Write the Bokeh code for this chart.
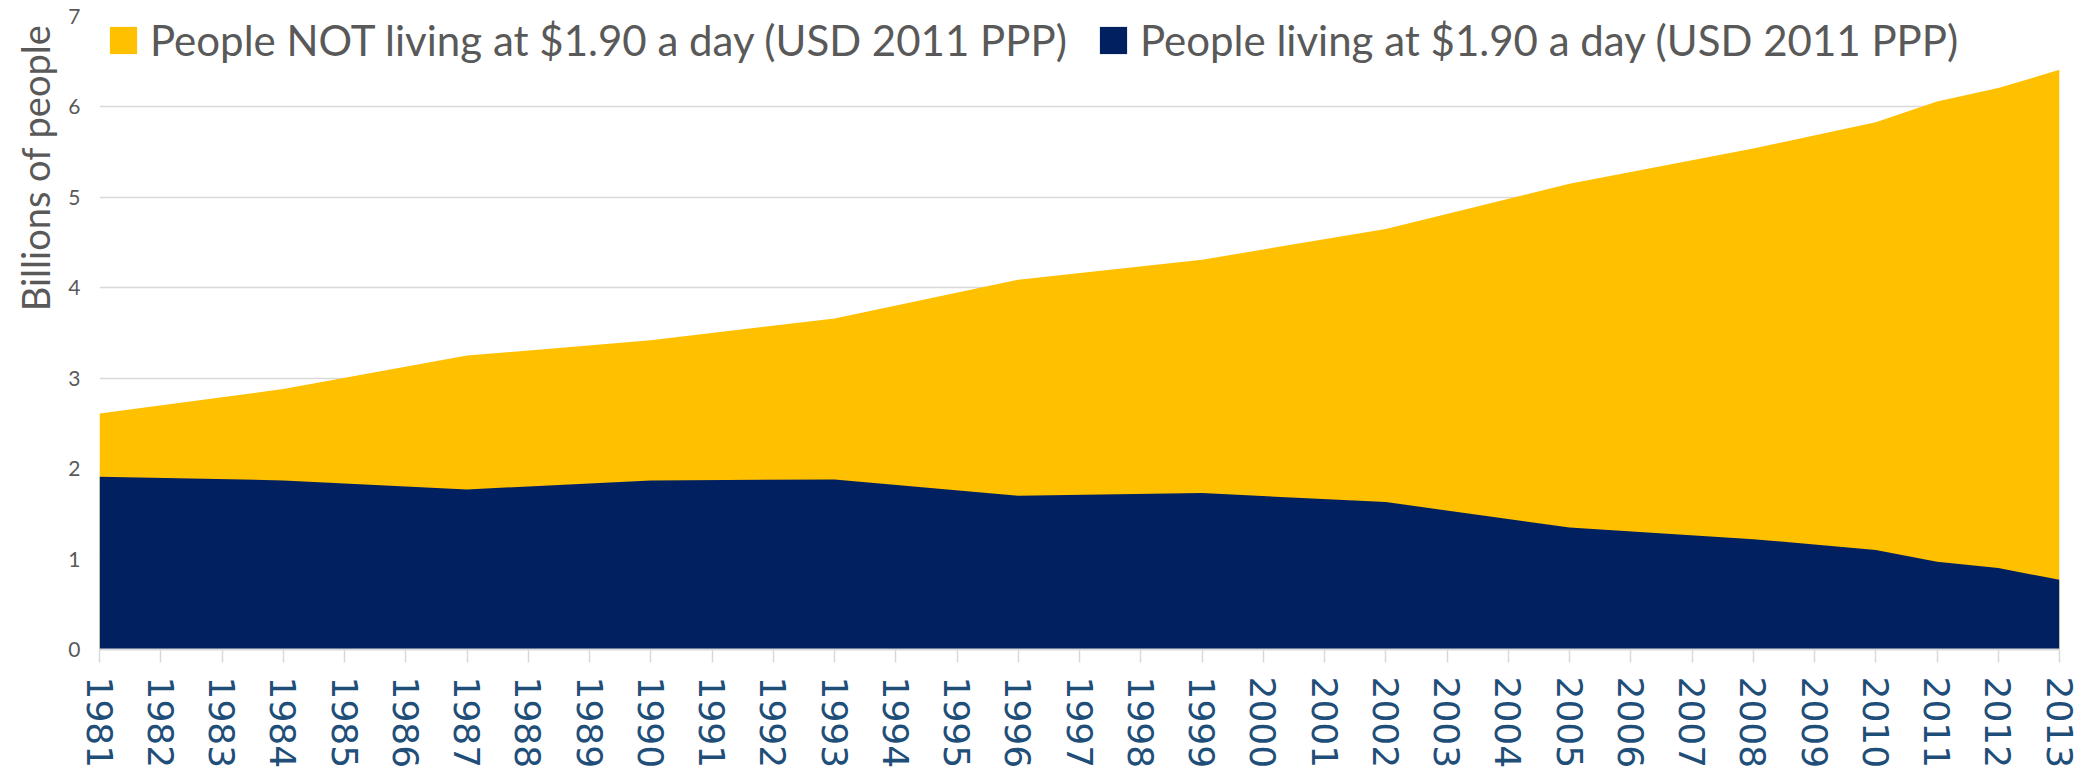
from bokeh.plotting import figure
from bokeh.models import (ColumnDataSource, FixedTicker, Legend, LegendItem,
                          Title, Range1d)
from bokeh.embed import file_html
from bokeh.resources import INLINE

# ---- data (billions of people) ----
years = [1981, 1984, 1987, 1990, 1993, 1996, 1999, 2002, 2005, 2008, 2010, 2011, 2012, 2013]
not_poor = [2.61, 2.88, 3.25, 3.42, 3.66, 4.09, 4.31, 4.65, 5.15, 5.54, 5.83, 6.06, 6.21, 6.41]
poor = [1.91, 1.87, 1.77, 1.87, 1.88, 1.70, 1.73, 1.63, 1.35, 1.22, 1.10, 0.97, 0.90, 0.77]

tick_years = list(range(1981, 2014))
tick_labels = [str(y) for y in tick_years]
y_ticks = [0, 1, 2, 3, 4, 5, 6, 7]

label_not_poor = "People NOT living at $1.90 a day (USD 2011 PPP)"
label_poor = "People living at $1.90 a day (USD 2011 PPP)"
y_title = "Billions of people"

YELLOW = "#FFC000"
NAVY = "#002060"
GRID = "#D9D9D9"
TEXT = "#595959"
XLAB = "#1F4E79"

src = ColumnDataSource(dict(year=years, not_poor=not_poor, poor=poor))

p = figure(frame_width=1960, frame_height=633,
           min_border_left=99, min_border_right=28, min_border_top=16, min_border_bottom=0,
           x_range=Range1d(1981, 2013), y_range=Range1d(0, 7),
           output_backend="svg", toolbar_location=None)
p.outline_line_color = None
p.background_fill_color = "white"
p.border_fill_color = "white"

r_yellow = p.varea(x="year", y1=0, y2="not_poor", source=src, fill_color=YELLOW)
r_navy = p.varea(x="year", y1=0, y2="poor", source=src, fill_color=NAVY)

# grid
p.xgrid.grid_line_color = None
p.ygrid.grid_line_color = GRID
p.ygrid.grid_line_width = 1.5
p.ygrid.ticker = FixedTicker(ticks=y_ticks)

# x axis
xa = p.xaxis[0]
xa.ticker = FixedTicker(ticks=tick_years)
xa.major_label_overrides = {y: l for y, l in zip(tick_years, tick_labels)}
xa.major_label_orientation = "vertical"
xa.major_label_text_font = "DejaVu Sans"
xa.major_label_text_font_size = "36px"
xa.major_label_text_color = XLAB
xa.major_label_standoff = 14
xa.axis_line_color = GRID
xa.axis_line_width = 2
xa.major_tick_line_color = GRID
xa.major_tick_line_width = 1.5
xa.major_tick_out = 13
xa.major_tick_in = 0
xa.minor_tick_line_color = None

# y axis
ya = p.yaxis[0]
ya.ticker = FixedTicker(ticks=y_ticks)
ya.major_label_text_font = "Lato"
ya.major_label_text_font_size = "21px"
ya.major_label_text_color = TEXT
ya.major_label_standoff = 13
ya.axis_line_color = None
ya.major_tick_line_color = None
ya.minor_tick_line_color = None

# y axis title, in the left panel, placed toward the top like the reference
p.add_layout(Title(text=y_title, align="right", offset=8, standoff=15,
                   text_font="Lato", text_font_size="38px", text_font_style="normal",
                   text_color=TEXT), "left")

legend = Legend(items=[LegendItem(label=label_not_poor, renderers=[r_yellow]),
                       LegendItem(label=label_poor, renderers=[r_navy])],
                orientation="horizontal", location=(7, 584),
                label_text_font="Lato", label_text_font_size="42px",
                label_text_color=TEXT, glyph_width=34, glyph_height=34,
                label_standoff=10, spacing=29, padding=13, margin=0,
                border_line_color=None, background_fill_color="white",
                background_fill_alpha=1.0)
p.add_layout(legend)

open("out.html", "w").write(file_html(p, INLINE))
